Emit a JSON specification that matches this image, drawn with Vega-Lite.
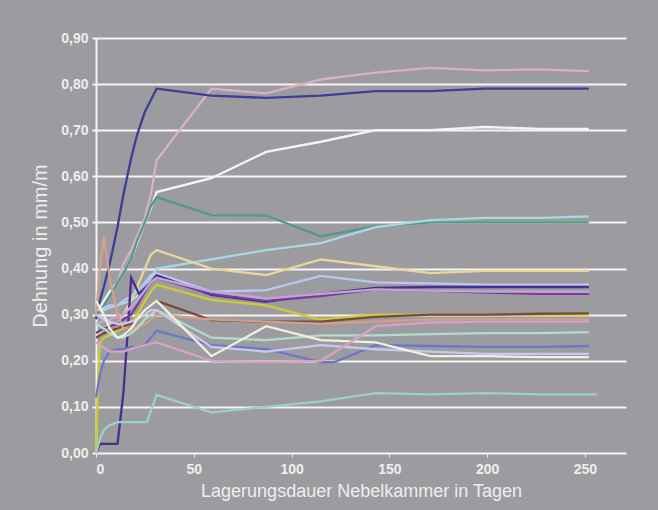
{
  "$schema": "https://vega.github.io/schema/vega-lite/v6.json",
  "width": 530,
  "height": 415,
  "autosize": {"type": "none"},
  "padding": {"left": 96, "top": 38, "right": 32, "bottom": 57},
  "background": "#9c9ca0",
  "config": {
    "view": {"stroke": null},
    "font": "Liberation Sans"
  },
  "datasets": {
    "rows": [
      {"s":"A","d":0,"v":0.30},{"s":"A","d":4,"v":0.32},{"s":"A","d":7,"v":0.34},{"s":"A","d":11,"v":0.37},{"s":"A","d":14,"v":0.41},{"s":"A","d":18,"v":0.44},{"s":"A","d":21,"v":0.47},{"s":"A","d":25,"v":0.51},{"s":"A","d":28,"v":0.56},{"s":"A","d":31,"v":0.635},{"s":"A","d":59,"v":0.79},{"s":"A","d":87,"v":0.78},{"s":"A","d":115,"v":0.81},{"s":"A","d":143,"v":0.825},{"s":"A","d":171,"v":0.835},{"s":"A","d":199,"v":0.83},{"s":"A","d":227,"v":0.832},{"s":"A","d":252,"v":0.828},

      {"s":"B","d":0,"v":0.29},{"s":"B","d":2,"v":0.33},{"s":"B","d":4,"v":0.36},{"s":"B","d":7,"v":0.41},{"s":"B","d":11,"v":0.49},{"s":"B","d":14,"v":0.56},{"s":"B","d":18,"v":0.64},{"s":"B","d":21,"v":0.69},{"s":"B","d":25,"v":0.74},{"s":"B","d":31,"v":0.79},{"s":"B","d":59,"v":0.775},{"s":"B","d":87,"v":0.77},{"s":"B","d":115,"v":0.775},{"s":"B","d":143,"v":0.785},{"s":"B","d":171,"v":0.785},{"s":"B","d":199,"v":0.79},{"s":"B","d":227,"v":0.79},{"s":"B","d":252,"v":0.79},

      {"s":"C","d":0,"v":0.30},{"s":"C","d":4,"v":0.33},{"s":"C","d":7,"v":0.35},{"s":"C","d":11,"v":0.37},{"s":"C","d":14,"v":0.39},{"s":"C","d":18,"v":0.42},{"s":"C","d":21,"v":0.455},{"s":"C","d":25,"v":0.50},{"s":"C","d":28,"v":0.53},{"s":"C","d":31,"v":0.566},{"s":"C","d":59,"v":0.596},{"s":"C","d":87,"v":0.653},{"s":"C","d":115,"v":0.675},{"s":"C","d":143,"v":0.70},{"s":"C","d":171,"v":0.70},{"s":"C","d":199,"v":0.707},{"s":"C","d":227,"v":0.703},{"s":"C","d":252,"v":0.703},

      {"s":"D","d":0,"v":0.30},{"s":"D","d":4,"v":0.32},{"s":"D","d":7,"v":0.34},{"s":"D","d":11,"v":0.37},{"s":"D","d":14,"v":0.39},{"s":"D","d":18,"v":0.42},{"s":"D","d":21,"v":0.46},{"s":"D","d":25,"v":0.50},{"s":"D","d":28,"v":0.535},{"s":"D","d":31,"v":0.555},{"s":"D","d":59,"v":0.516},{"s":"D","d":87,"v":0.515},{"s":"D","d":115,"v":0.47},{"s":"D","d":143,"v":0.492},{"s":"D","d":171,"v":0.50},{"s":"D","d":199,"v":0.50},{"s":"D","d":227,"v":0.50},{"s":"D","d":252,"v":0.50},

      {"s":"E","d":0,"v":0.31},{"s":"E","d":4,"v":0.315},{"s":"E","d":7,"v":0.32},{"s":"E","d":11,"v":0.32},{"s":"E","d":14,"v":0.325},{"s":"E","d":18,"v":0.33},{"s":"E","d":21,"v":0.34},{"s":"E","d":25,"v":0.36},{"s":"E","d":28,"v":0.38},{"s":"E","d":31,"v":0.40},{"s":"E","d":59,"v":0.42},{"s":"E","d":87,"v":0.44},{"s":"E","d":115,"v":0.455},{"s":"E","d":143,"v":0.49},{"s":"E","d":171,"v":0.505},{"s":"E","d":199,"v":0.51},{"s":"E","d":227,"v":0.51},{"s":"E","d":252,"v":0.513},

      {"s":"F","d":0,"v":0.25},{"s":"F","d":4,"v":0.27},{"s":"F","d":7,"v":0.28},{"s":"F","d":11,"v":0.28},{"s":"F","d":14,"v":0.30},{"s":"F","d":18,"v":0.33},{"s":"F","d":21,"v":0.36},{"s":"F","d":25,"v":0.40},{"s":"F","d":28,"v":0.43},{"s":"F","d":31,"v":0.44},{"s":"F","d":59,"v":0.40},{"s":"F","d":87,"v":0.386},{"s":"F","d":115,"v":0.42},{"s":"F","d":143,"v":0.405},{"s":"F","d":171,"v":0.39},{"s":"F","d":199,"v":0.395},{"s":"F","d":227,"v":0.395},{"s":"F","d":252,"v":0.395},

      {"s":"G","d":0,"v":0.31},{"s":"G","d":4,"v":0.31},{"s":"G","d":7,"v":0.315},{"s":"G","d":11,"v":0.32},{"s":"G","d":14,"v":0.33},{"s":"G","d":18,"v":0.34},{"s":"G","d":21,"v":0.35},{"s":"G","d":25,"v":0.37},{"s":"G","d":28,"v":0.385},{"s":"G","d":31,"v":0.39},{"s":"G","d":59,"v":0.35},{"s":"G","d":87,"v":0.353},{"s":"G","d":115,"v":0.384},{"s":"G","d":143,"v":0.37},{"s":"G","d":171,"v":0.368},{"s":"G","d":199,"v":0.365},{"s":"G","d":227,"v":0.365},{"s":"G","d":252,"v":0.365},

      {"s":"H","d":0,"v":0.0},{"s":"H","d":2,"v":0.02},{"s":"H","d":7,"v":0.02},{"s":"H","d":11,"v":0.02},{"s":"H","d":14,"v":0.13},{"s":"H","d":16,"v":0.25},{"s":"H","d":18,"v":0.38},{"s":"H","d":22,"v":0.345},{"s":"H","d":28,"v":0.37},{"s":"H","d":31,"v":0.385},{"s":"H","d":59,"v":0.343},{"s":"H","d":87,"v":0.328},{"s":"H","d":115,"v":0.345},{"s":"H","d":143,"v":0.358},{"s":"H","d":171,"v":0.36},{"s":"H","d":199,"v":0.36},{"s":"H","d":227,"v":0.36},{"s":"H","d":252,"v":0.36},

      {"s":"I","d":0,"v":0.26},{"s":"I","d":4,"v":0.27},{"s":"I","d":7,"v":0.275},{"s":"I","d":11,"v":0.28},{"s":"I","d":14,"v":0.29},{"s":"I","d":18,"v":0.30},{"s":"I","d":21,"v":0.32},{"s":"I","d":25,"v":0.35},{"s":"I","d":28,"v":0.37},{"s":"I","d":31,"v":0.38},{"s":"I","d":59,"v":0.345},{"s":"I","d":87,"v":0.33},{"s":"I","d":115,"v":0.34},{"s":"I","d":143,"v":0.355},{"s":"I","d":171,"v":0.352},{"s":"I","d":199,"v":0.348},{"s":"I","d":227,"v":0.345},{"s":"I","d":252,"v":0.345},

      {"s":"J","d":0,"v":0.28},{"s":"J","d":7,"v":0.29},{"s":"J","d":14,"v":0.30},{"s":"J","d":21,"v":0.33},{"s":"J","d":28,"v":0.37},{"s":"J","d":31,"v":0.38},{"s":"J","d":59,"v":0.35},{"s":"J","d":87,"v":0.335},{"s":"J","d":115,"v":0.345},{"s":"J","d":143,"v":0.355},{"s":"J","d":171,"v":0.352},{"s":"J","d":199,"v":0.35},{"s":"J","d":227,"v":0.35},{"s":"J","d":252,"v":0.35},

      {"s":"K","d":0,"v":0.0},{"s":"K","d":1,"v":0.15},{"s":"K","d":2,"v":0.24},{"s":"K","d":4,"v":0.25},{"s":"K","d":7,"v":0.255},{"s":"K","d":11,"v":0.265},{"s":"K","d":14,"v":0.27},{"s":"K","d":18,"v":0.28},{"s":"K","d":21,"v":0.30},{"s":"K","d":25,"v":0.33},{"s":"K","d":28,"v":0.35},{"s":"K","d":31,"v":0.365},{"s":"K","d":59,"v":0.332},{"s":"K","d":87,"v":0.32},{"s":"K","d":115,"v":0.289},{"s":"K","d":143,"v":0.30},{"s":"K","d":171,"v":0.30},{"s":"K","d":199,"v":0.30},{"s":"K","d":227,"v":0.30},{"s":"K","d":252,"v":0.30},

      {"s":"L","d":0,"v":0.25},{"s":"L","d":4,"v":0.26},{"s":"L","d":7,"v":0.265},{"s":"L","d":11,"v":0.27},{"s":"L","d":14,"v":0.275},{"s":"L","d":18,"v":0.28},{"s":"L","d":21,"v":0.29},{"s":"L","d":25,"v":0.31},{"s":"L","d":28,"v":0.32},{"s":"L","d":31,"v":0.33},{"s":"L","d":59,"v":0.288},{"s":"L","d":87,"v":0.285},{"s":"L","d":115,"v":0.285},{"s":"L","d":143,"v":0.295},{"s":"L","d":171,"v":0.30},{"s":"L","d":199,"v":0.30},{"s":"L","d":227,"v":0.302},{"s":"L","d":252,"v":0.303},

      {"s":"M","d":0,"v":0.30},{"s":"M","d":2,"v":0.40},{"s":"M","d":4,"v":0.47},{"s":"M","d":7,"v":0.38},{"s":"M","d":11,"v":0.30},{"s":"M","d":14,"v":0.27},{"s":"M","d":18,"v":0.27},{"s":"M","d":25,"v":0.28},{"s":"M","d":31,"v":0.30},{"s":"M","d":59,"v":0.29},{"s":"M","d":87,"v":0.285},{"s":"M","d":115,"v":0.28},{"s":"M","d":143,"v":0.285},{"s":"M","d":171,"v":0.29},{"s":"M","d":199,"v":0.29},{"s":"M","d":227,"v":0.29},{"s":"M","d":252,"v":0.29},

      {"s":"N","d":0,"v":0.28},{"s":"N","d":4,"v":0.27},{"s":"N","d":7,"v":0.26},{"s":"N","d":11,"v":0.25},{"s":"N","d":14,"v":0.25},{"s":"N","d":18,"v":0.26},{"s":"N","d":21,"v":0.27},{"s":"N","d":25,"v":0.29},{"s":"N","d":28,"v":0.30},{"s":"N","d":31,"v":0.31},{"s":"N","d":59,"v":0.25},{"s":"N","d":87,"v":0.245},{"s":"N","d":115,"v":0.255},{"s":"N","d":143,"v":0.255},{"s":"N","d":171,"v":0.258},{"s":"N","d":199,"v":0.26},{"s":"N","d":227,"v":0.26},{"s":"N","d":252,"v":0.262},

      {"s":"O","d":0,"v":0.12},{"s":"O","d":2,"v":0.17},{"s":"O","d":4,"v":0.20},{"s":"O","d":7,"v":0.22},{"s":"O","d":11,"v":0.225},{"s":"O","d":14,"v":0.225},{"s":"O","d":18,"v":0.23},{"s":"O","d":21,"v":0.23},{"s":"O","d":25,"v":0.235},{"s":"O","d":28,"v":0.25},{"s":"O","d":31,"v":0.265},{"s":"O","d":59,"v":0.234},{"s":"O","d":87,"v":0.225},{"s":"O","d":115,"v":0.197},{"s":"O","d":122,"v":0.197},{"s":"O","d":143,"v":0.234},{"s":"O","d":171,"v":0.232},{"s":"O","d":199,"v":0.23},{"s":"O","d":227,"v":0.23},{"s":"O","d":252,"v":0.232},

      {"s":"P","d":0,"v":0.30},{"s":"P","d":4,"v":0.29},{"s":"P","d":7,"v":0.285},{"s":"P","d":11,"v":0.28},{"s":"P","d":14,"v":0.28},{"s":"P","d":18,"v":0.285},{"s":"P","d":21,"v":0.29},{"s":"P","d":25,"v":0.30},{"s":"P","d":28,"v":0.31},{"s":"P","d":31,"v":0.31},{"s":"P","d":59,"v":0.23},{"s":"P","d":87,"v":0.22},{"s":"P","d":115,"v":0.234},{"s":"P","d":143,"v":0.225},{"s":"P","d":171,"v":0.22},{"s":"P","d":199,"v":0.215},{"s":"P","d":227,"v":0.215},{"s":"P","d":252,"v":0.215},

      {"s":"Q","d":0,"v":0.33},{"s":"Q","d":4,"v":0.30},{"s":"Q","d":7,"v":0.27},{"s":"Q","d":11,"v":0.25},{"s":"Q","d":14,"v":0.255},{"s":"Q","d":18,"v":0.27},{"s":"Q","d":21,"v":0.29},{"s":"Q","d":25,"v":0.31},{"s":"Q","d":28,"v":0.32},{"s":"Q","d":31,"v":0.33},{"s":"Q","d":59,"v":0.21},{"s":"Q","d":87,"v":0.275},{"s":"Q","d":115,"v":0.245},{"s":"Q","d":143,"v":0.24},{"s":"Q","d":171,"v":0.21},{"s":"Q","d":199,"v":0.21},{"s":"Q","d":227,"v":0.208},{"s":"Q","d":252,"v":0.208},

      {"s":"R","d":0,"v":0.24},{"s":"R","d":7,"v":0.22},{"s":"R","d":14,"v":0.22},{"s":"R","d":21,"v":0.23},{"s":"R","d":31,"v":0.24},{"s":"R","d":59,"v":0.20},{"s":"R","d":87,"v":0.197},{"s":"R","d":115,"v":0.20},{"s":"R","d":143,"v":0.275},{"s":"R","d":171,"v":0.283},{"s":"R","d":199,"v":0.285},{"s":"R","d":227,"v":0.285},{"s":"R","d":252,"v":0.285},

      {"s":"S","d":0,"v":0.0},{"s":"S","d":2,"v":0.03},{"s":"S","d":4,"v":0.05},{"s":"S","d":7,"v":0.06},{"s":"S","d":11,"v":0.067},{"s":"S","d":26,"v":0.067},{"s":"S","d":31,"v":0.126},{"s":"S","d":59,"v":0.088},{"s":"S","d":87,"v":0.10},{"s":"S","d":115,"v":0.112},{"s":"S","d":143,"v":0.13},{"s":"S","d":171,"v":0.127},{"s":"S","d":199,"v":0.13},{"s":"S","d":227,"v":0.127},{"s":"S","d":256,"v":0.127}
    ]
  },
  "data": {"name": "rows"},
  "mark": {"type": "line", "strokeWidth": 2.3, "clip": false},
  "encoding": {
    "x": {
      "field": "d",
      "type": "quantitative",
      "scale": {"domain": [0, 271], "nice": false},
      "axis": {
        "values": [0, 50, 100, 150, 200, 250],
        "title": "Lagerungsdauer Nebelkammer in Tagen",
        "titleFontSize": 18,
        "titleFontWeight": "normal",
        "titleColor": "#eeeeee",
        "titlePadding": 6,
        "titleAnchor": "middle",
        "labelColor": "#eeeeee",
        "labelFontSize": 14,
        "labelFontWeight": "bold",
        "labelPadding": 5,
        "domain": false,
        "grid": false,
        "ticks": true,
        "tickColor": "#eeeeee",
        "tickSize": 4,
        "tickWidth": 1
      }
    },
    "y": {
      "field": "v",
      "type": "quantitative",
      "scale": {"domain": [0, 0.9], "nice": false},
      "axis": {
        "values": [0, 0.1, 0.2, 0.3, 0.4, 0.5, 0.6, 0.7, 0.8, 0.9],
        "labelExpr": "replace(format(datum.value, '.2f'), '.', ',')",
        "title": "Dehnung in mm/m",
        "titleFontSize": 20,
        "titleFontWeight": "normal",
        "titleColor": "#eeeeee",
        "titlePadding": 10,
        "labelColor": "#eeeeee",
        "labelFontSize": 14,
        "labelFontWeight": "bold",
        "labelPadding": 4,
        "domain": true,
        "domainColor": "#f4f4f4",
        "domainWidth": 2,
        "grid": true,
        "gridColor": "#f4f4f4",
        "gridWidth": 2,
        "gridOpacity": 1,
        "ticks": true,
        "tickColor": "#f4f4f4",
        "tickSize": 4,
        "tickWidth": 2
      }
    },
    "color": {
      "field": "s",
      "type": "nominal",
      "legend": null,
      "scale": {
        "domain": ["A","B","C","D","E","F","G","H","I","J","K","L","M","N","O","P","Q","R","S"],
        "range": ["#d8b0c8","#3c3e98","#f4f4f4","#4f9a88","#a8d8e4","#e8d898","#b8c8f0","#46308c","#7a3c9c","#c4a4d6","#cccc34","#7a4a3c","#d2a088","#b0dccc","#6a78c8","#c8c8ee","#f0f0dc","#d8a0c4","#9cd0c8"]
      }
    }
  }
}
